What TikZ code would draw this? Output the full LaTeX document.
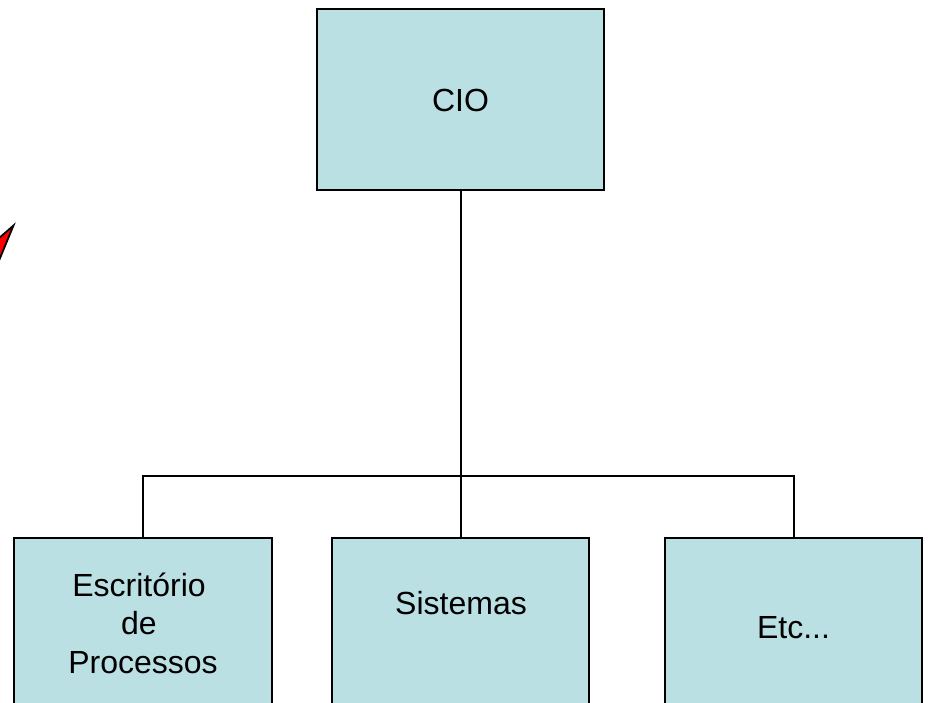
\documentclass[tikz,border=0pt]{standalone}
\usepackage{fontspec}
\setmainfont{Liberation Sans}
\definecolor{boxfill}{HTML}{BBE0E3}
\tikzset{
  orgbox/.style={draw=black,line width=2pt,fill=boxfill,rectangle,inner sep=0pt,anchor=north west},
  boxtext/.style={inner sep=0pt,align=center,font=\fontsize{32}{38.5}\selectfont,anchor=center},
  conn/.style={draw=black,line width=1.4pt},
}
\begin{document}
\begin{tikzpicture}[x=1pt,y=-1pt]
\useasboundingbox (0,0) rectangle (928,702);
\clip (0,0) rectangle (928,702);
\fill[white] (0,0) rectangle (928,702);
% red star fragment
\filldraw[draw=black,fill=red,line width=1.8pt,line join=miter] (-10,246) -- (13.5,225.5) -- (-2,263) -- cycle;
\node[orgbox,minimum width=287pt,minimum height=181pt] (cio) at (316,8) {};
\node[orgbox,minimum width=258pt,minimum height=200pt] (esc) at (13,537) {};
\node[orgbox,minimum width=257pt,minimum height=200pt] (sis) at (331,537) {};
\node[orgbox,minimum width=257pt,minimum height=200pt] (etc) at (664,537) {};
\coordinate (bus) at (461,476);
\draw[conn,line width=2pt] (cio.south -| bus) -- (bus);
\draw[conn] (bus) -- (sis.north -| bus);
\draw[conn] (bus) -- (143,476) coordinate (busl) -- (busl |- esc.north);
\draw[conn] (bus) -- (794,476) coordinate (busr) -- (busr |- etc.north);
\node[boxtext] (tcio) at (460.5,100) {CIO};
\node[boxtext] (tesc) at (143,623) {Escritório\rule{8pt}{0pt}\\de\rule{8pt}{0pt}\\Processos};
\node[boxtext] (tsis) at (461,603) {Sistemas};
\node[boxtext] (tetc) at (793.5,628) {Etc...};
\end{tikzpicture}
\end{document}
